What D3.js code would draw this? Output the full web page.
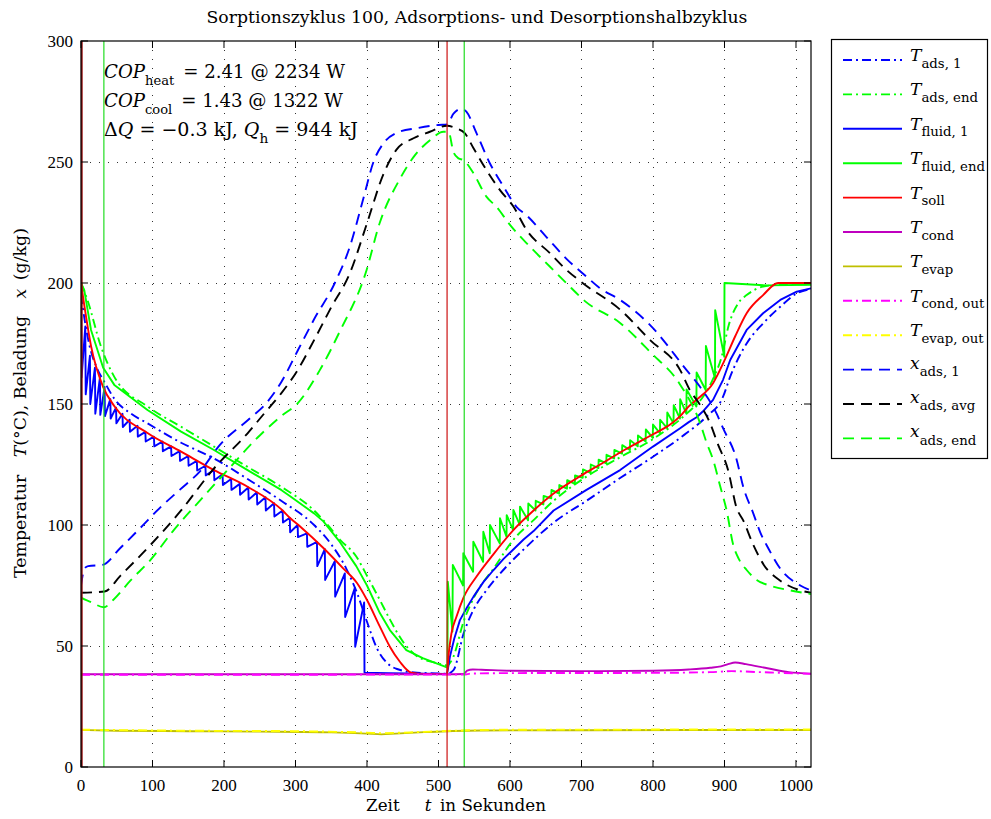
<!DOCTYPE html>
<html>
<head>
<meta charset="utf-8">
<script src="https://cdn.jsdelivr.net/npm/d3@7"></script>
<style>
  body { margin: 0; background: #fff; }
  text { font-family: "DejaVu Serif", "Liberation Serif", serif; fill: #000; }
  .tick text, text.tick { font-family: "Liberation Serif", serif; }
</style>
</head>
<body>
<svg id="chart" width="991" height="819"></svg>
<script>
// ---- axis ticks ----
const xTicks = [0, 100, 200, 300, 400, 500, 600, 700, 800, 900, 1000];
const yTicks = [0, 50, 100, 150, 200, 250, 300];

// ---- phase markers (seconds) ----
const redMarkers = [0, 512];
const greenMarkers = [32, 536];

// ---- series: [t in s, value] ----
const T_ads1 = [[0,195],[5,185],[12,174],[22,165],[33,159],[47,152],[70,146],[93,142],[140,134],[186,127.5],[233,119],[280,110],[326,100],[350,92],[371,82],[386,72],[400,60],[414,49],[428,43],[442,40.5],[470,39],[512,38.6],[521,40],[535,55],[549,65],[567,73],[595,82.8],[623,91],[661,101],[707,110],[754,119.4],[800,128.2],[847,138],[875,144.8],[898,153],[908,161.3],[931,175],[954,183.3],[978,190.2],[1001,195.7],[1021,197.5]];

const T_adsEnd = [[0,200],[9,193],[28,173.7],[47,161],[93,149],[140,140.6],[186,132.4],[233,124],[280,115.8],[326,106],[345,100],[362,94],[385,87],[400,79],[418,69],[432,61],[451,51.5],[469,46],[497,43],[512,42],[520,45],[535,60],[553,72],[577,82],[605,94],[633,102],[661,110],[707,120],[754,128],[800,135.5],[847,146],[870,153],[885,161],[896,169.5],[906,182.6],[920,192],[931,195],[954,198.5],[980,199.3],[1021,199.5]];

const T_fluid1 = [[0,195],[0.8,161],[6,182],[6.6,154],[12.5,170],[13,150],[19.5,165],[20,146],[26.5,161],[27,145.5],[33,157],[33.5,145],[41,152],[41.5,144],[49,148.5],[49.5,142],[58,146],[58.5,140.5],[68,143.5],[68.5,138.5],[79,141],[79.5,136.5],[90,138.5],[90.5,134.5],[102,136.5],[102.5,132.5],[114,134.5],[114.5,130.5],[126,132.5],[126.5,128.5],[138,130.5],[138.5,126.5],[150,128.5],[150.5,124.5],[162,126.5],[162.5,122.5],[174,124.5],[174.5,120.5],[186,122.7],[186.5,118.5],[198,121],[198.5,116.5],[210,119],[210.5,114.5],[222,117],[222.5,112.5],[234,115.5],[234.5,110.5],[246,113.5],[246.5,108.5],[258,111.5],[258.5,106],[270,109],[270.5,103.5],[282,106],[282.5,101],[292,103],[292.5,97],[303,100],[303.5,95],[316,96.5],[316.5,91],[330,93],[330.5,83],[341,90],[341.5,77.3],[355,85],[355.5,70.4],[369,80],[369.5,62],[383,74],[383.5,49.7],[396,68],[396.5,39],[430,38.8],[512,38.5],[514,42],[516,45.6],[522,53],[530,60.7],[540,66],[549,70.4],[563,76.5],[577,81.4],[591,86],[605,90],[619,94],[633,97.5],[661,106],[707,114.5],[754,122.7],[800,132.4],[838,140],[850,142.5],[861,144.5],[870,147],[884,151.7],[898,160],[908,168.2],[931,180.6],[954,187.5],[978,193],[1001,196.4],[1021,197.8]];

const T_fluidEnd = [[0,200],[4.6,197],[14,180.6],[31,165],[46.6,157.9],[93,147.5],[140,138.6],[186,131],[233,122.7],[280,114.5],[292,112],[326,104.8],[339,101.5],[362,93],[385,83],[400,75],[418,63.6],[432,56.6],[455,48.3],[478,45],[510,41.4],[512.5,41],[513,76.6],[519.5,56],[520,83.5],[534.4,75],[534.7,88.3],[548.4,80.7],[548.7,93.1],[562.4,84.8],[562.7,97.2],[571.7,88.3],[572,100],[585.7,92.4],[586,102.8],[595.1,95.2],[595.4,104.1],[604.4,97.9],[604.7,106.2],[613.7,100],[614,107.6],[625.3,102],[625.6,108.9],[635.7,106],[636,110],[646.7,108.5],[647,112],[657.7,111],[658,114.5],[668.7,113],[669,116.5],[679.7,115],[680,118.5],[690.7,117],[691,120.5],[701.7,119.5],[702,123],[712.7,121.5],[713,125],[723.7,123.5],[724,127],[734.7,125.5],[735,129],[745.7,127.5],[746,131],[756.7,129.5],[757,133],[767.7,131],[768,135],[778.7,132.5],[779,137],[789.7,134.5],[790,139.5],[799.7,136],[800,141.5],[809.7,138],[810,143.5],[819.7,140],[820,146.5],[828.7,142],[829,149.5],[837.7,144],[838,152],[846.7,146],[847,156],[860.7,149],[861,163],[873.7,155.8],[874,174],[886.7,160.6],[887,188.8],[899.7,169.5],[900,200],[960,199],[1021,199.3]];

const T_soll = [[0,200],[2,196],[5,190],[14,174],[31,157],[47,149],[93,138],[140,130.3],[186,122.7],[233,115.8],[282,106],[292,103],[308,99],[339,90.5],[367,82],[386,76],[400,69],[418,58],[432,49.7],[446,43.5],[462,39],[480,38.5],[512,38.5],[514,46],[518,55],[525,62],[535,70],[553,78.6],[577,88],[605,98],[633,106],[661,113],[700,120.5],[726,125],[760,131],[800,137.5],[824,141.5],[838,145],[850,149],[862,152],[884,158.6],[900,168],[915,178],[931,187.5],[954,195],[975,200],[1021,200]];

const T_cond = [[0,38.3],[512,38.3],[535,38.4],[540,39.8],[548,40.3],[560,40.2],[600,39.8],[700,39.6],[800,39.8],[850,40.3],[880,41],[895,41.6],[905,42.5],[915,43.2],[930,42.5],[960,40.8],[990,39.2],[1021,38.6]];

const T_evap = [[0,15.3],[50,15],[150,14.8],[250,14.6],[350,14.3],[400,13.8],[420,13.5],[440,13.8],[480,14.4],[520,14.9],[560,15.1],[700,15.2],[1021,15.3]];

const T_condOut = [[0,38.1],[536,38.2],[545,38.6],[600,38.8],[800,38.9],[880,39.2],[910,39.6],[950,39.2],[1021,38.5]];

const T_evapOut = [[0,15.4],[150,15],[300,14.8],[400,14.2],[420,14],[460,14.3],[520,15],[600,15.4],[1021,15.5]];

const x_ads1 = [[0,75],[5,82],[10,83],[30,83.5],[55,90.5],[83,98.8],[110,107],[138,114.5],[168,122.7],[194,133],[236,144],[259,150.3],[280,159],[303,172],[326,185],[355,200],[376,215],[395,235],[409,250],[423,257.7],[441,262],[470,264],[500,265.3],[512,265.5],[521,270],[532,272],[539,270.8],[553,262],[572,249.4],[591,239.8],[609,231.5],[623,228],[651,219],[679,210],[707,202.6],[726,197.8],[754,193],[796,182.6],[847,164],[866,157],[889,146],[898,140],[917,127],[926,116],[940,105],[950,97],[962,90],[978,82],[1006,75],[1021,73]];

const x_adsAvg = [[0,72],[33,72.5],[55,79],[97,91.7],[140,106],[184,122.7],[233,137.9],[256,146],[280,154.4],[303,164],[326,176.4],[350,190],[376,204],[400,224.7],[423,245],[441,255],[465,259.8],[488,262.5],[512,265],[525,263.9],[537,261.8],[549,255.7],[567,246.7],[586,238.4],[605,231.5],[623,222],[656,212.3],[679,205.4],[702,199.9],[754,189],[796,176.4],[838,164],[852,155.5],[866,149.6],[880,142],[890,134],[905,122.7],[917,107],[926,102],[940,92],[955,83.5],[978,77],[1006,73],[1021,72]];

const x_adsEnd = [[0,70],[15,68],[32,66],[45,69],[69,77],[97,85.5],[130,98],[166,110],[205,122.7],[250,137],[280,145],[303,150.3],[334,164],[362,180],[398,204],[418,225],[446,243],[465,252],[488,259],[507,262.5],[514,262.5],[521,254],[528,251.5],[535,250.8],[549,245.3],[567,235.7],[581,231.5],[600,224],[628,215],[656,206.7],[679,199.9],[707,192],[754,183.5],[796,171.5],[838,158],[866,142],[875,134],[884,127],[894,116],[903,106],[912,92],[920,86],[931,81.4],[945,77.3],[963,75],[992,73],[1021,71.5]];

// ---- legend / styling table ----
const seriesDefs = [
  { data: T_ads1,     sym: "T", sub: "ads, 1",     color: "#0000ff", dash: "9,4,2,4", saw: false },
  { data: T_adsEnd,   sym: "T", sub: "ads, end",   color: "#00ff00", dash: "9,4,2,4", saw: false },
  { data: T_fluid1,   sym: "T", sub: "fluid, 1",   color: "#0000ff", dash: null,      saw: true  },
  { data: T_fluidEnd, sym: "T", sub: "fluid, end", color: "#00ff00", dash: null,      saw: true  },
  { data: T_soll,     sym: "T", sub: "soll",       color: "#ff0000", dash: null,      saw: false },
  { data: T_cond,     sym: "T", sub: "cond",       color: "#bf00bf", dash: null,      saw: false },
  { data: T_evap,     sym: "T", sub: "evap",       color: "#bfbf00", dash: null,      saw: false },
  { data: T_condOut,  sym: "T", sub: "cond, out",  color: "#ff00ff", dash: "9,4,2,4", saw: false },
  { data: T_evapOut,  sym: "T", sub: "evap, out",  color: "#ffff00", dash: "9,4,2,4", saw: false },
  { data: x_ads1,     sym: "x", sub: "ads, 1",     color: "#0000ff", dash: "11,7",    saw: false },
  { data: x_adsAvg,   sym: "x", sub: "ads, avg",   color: "#000000", dash: "11,7",    saw: false },
  { data: x_adsEnd,   sym: "x", sub: "ads, end",   color: "#00ff00", dash: "11,7",    saw: false }
];

const svg = d3.select("#chart");
const L = 81, R = 811, T = 41, B = 767;
const x = d3.scaleLinear().domain([0, 1021]).range([L, R]);
const y = d3.scaleLinear().domain([0, 300]).range([B, T]);

// scale a text block's font size so that it spans the given width
function fitWidth(sel, width) {
  const w = sel.node().getComputedTextLength();
  const fs = parseFloat(sel.attr("font-size"));
  if (w > 0) sel.attr("font-size", (fs * width / w).toFixed(2));
  return sel;
}

svg.append("rect").attr("width", 991).attr("height", 819).attr("fill", "#fff");

svg.append("defs").append("clipPath").attr("id", "plotClip")
  .append("rect").attr("x", L).attr("y", T).attr("width", R - L).attr("height", B - T);

// dotted grid
const grid = svg.append("g").attr("stroke", "#333").attr("stroke-width", 1)
  .attr("stroke-dasharray", "1,8");
xTicks.filter(d => d > 0).forEach(d => {
  grid.append("line").attr("x1", Math.round(x(d)) + 0.5).attr("x2", Math.round(x(d)) + 0.5)
    .attr("y1", T).attr("y2", B);
});
yTicks.filter(d => d > 0 && d < 300).forEach(d => {
  grid.append("line").attr("y1", Math.round(y(d)) + 0.5).attr("y2", Math.round(y(d)) + 0.5)
    .attr("x1", L).attr("x2", R);
});

// series
const plot = svg.append("g").attr("clip-path", "url(#plotClip)");
seriesDefs.forEach(s => {
  const line = d3.line()
    .x(d => x(d[0])).y(d => y(d[1]))
    .curve(s.saw ? d3.curveLinear : d3.curveMonotoneX);
  plot.append("path")
    .attr("d", line(s.data))
    .attr("fill", "none")
    .attr("stroke", s.color)
    .attr("stroke-width", 1.9)
    .attr("stroke-linejoin", "round")
    .attr("stroke-dasharray", s.dash);
});

// phase markers
redMarkers.forEach(t => {
  const px = t === 0 ? x(t) + 0.8 : x(t);
  svg.append("line").attr("x1", px).attr("x2", px)
    .attr("y1", T).attr("y2", B).attr("stroke", t === 0 ? "#9a1010" : "#cc1111")
    .attr("stroke-width", t === 0 ? 1.8 : 1.2);
});
greenMarkers.forEach(t => {
  svg.append("line").attr("x1", x(t)).attr("x2", x(t))
    .attr("y1", T).attr("y2", B).attr("stroke", "#22dd22").attr("stroke-width", 1.2);
});

// frame and inward ticks
svg.append("rect").attr("x", L).attr("y", T).attr("width", R - L).attr("height", B - T)
  .attr("fill", "none").attr("stroke", "#000").attr("stroke-width", 1.2);
const tk = 7;
const ticks = svg.append("g").attr("stroke", "#000").attr("stroke-width", 1);
xTicks.forEach(d => {
  const px = x(d);
  ticks.append("line").attr("x1", px).attr("x2", px).attr("y1", B).attr("y2", B - tk);
  ticks.append("line").attr("x1", px).attr("x2", px).attr("y1", T).attr("y2", T + tk);
});
yTicks.forEach(d => {
  const py = y(d);
  ticks.append("line").attr("x1", L).attr("x2", L + tk).attr("y1", py).attr("y2", py);
  ticks.append("line").attr("x1", R).attr("x2", R - tk).attr("y1", py).attr("y2", py);
});

// tick labels
svg.append("g").selectAll("text").data(xTicks).join("text").attr("class", "tick")
  .attr("x", d => x(d)).attr("y", 791).attr("text-anchor", "middle")
  .attr("font-size", 17).text(d => d);
svg.append("g").selectAll("text").data(yTicks).join("text").attr("class", "tick")
  .attr("x", 73).attr("y", d => y(d) + 6).attr("text-anchor", "end")
  .attr("font-size", 17).text(d => d);

// title
fitWidth(svg.append("text").attr("x", 477).attr("y", 23).attr("text-anchor", "middle")
  .attr("font-size", 16).text("Sorptionszyklus 100, Adsorptions- und Desorptionshalbzyklus"), 541);

// x-axis label
const xl = svg.append("text").attr("x", 456).attr("y", 811).attr("text-anchor", "middle")
  .attr("font-size", 16);
xl.append("tspan").text("Zeit\u2003\u2002");
xl.append("tspan").attr("font-style", "italic").text("t");
xl.append("tspan").text("\u2002in Sekunden");
fitWidth(xl, 180);

// y-axis label
const yl = svg.append("text").attr("transform", "translate(26,403) rotate(-90)")
  .attr("text-anchor", "middle").attr("font-size", 16);
yl.append("tspan").text("Temperatur\u2002\u2002");
yl.append("tspan").attr("font-style", "italic").text("T");
yl.append("tspan").text("(\u00B0C), Beladung\u2002\u2002");
yl.append("tspan").attr("font-style", "italic").text("x");
yl.append("tspan").text("\u2002(g/kg)");
fitWidth(yl, 350);

// performance annotation
function annLine(yy, width, parts) {
  const t = svg.append("text").attr("x", 104).attr("y", yy).attr("font-size", 18);
  parts.forEach(p => {
    const ts = t.append("tspan").text(p.s);
    if (p.it) ts.attr("font-style", "italic");
    if (p.sub) ts.attr("font-size", "0.72em").attr("dy", "0.5em");
    if (p.up) ts.attr("dy", "-0.36em");
  });
  fitWidth(t, width);
}
annLine(78, 241, [{ s: "COP", it: true }, { s: "heat", sub: true }, { s: "\u2002= 2.41 @ 2234 W", up: true }]);
annLine(107, 239, [{ s: "COP", it: true }, { s: "cool", sub: true }, { s: "\u2002= 1.43 @ 1322 W", up: true }]);
annLine(136, 254, [{ s: "\u0394" }, { s: "Q", it: true }, { s: " = \u22120.3 kJ, " }, { s: "Q", it: true }, { s: "h", sub: true }, { s: " = 944 kJ", up: true }]);

// legend
const lg = svg.append("g");
lg.append("rect").attr("x", 831.5).attr("y", 39.5).attr("width", 156).attr("height", 419)
  .attr("fill", "#fff").attr("stroke", "#000").attr("stroke-width", 1.2);
const legendTexts = [];
seriesDefs.forEach((s, i) => {
  const ly = 60 + i * 34.4;
  lg.append("line").attr("x1", 843).attr("x2", 902).attr("y1", ly).attr("y2", ly)
    .attr("stroke", s.color).attr("stroke-width", 1.9).attr("stroke-dasharray", s.dash);
  const t = lg.append("text").attr("x", 910).attr("y", s.sym === "T" ? ly + 1 : ly - 1).attr("font-size", 16);
  t.append("tspan").attr("font-style", "italic").text(s.sym);
  t.append("tspan").attr("font-size", "0.78em").attr("dy", s.sym === "T" ? "0.5em" : "0.56em").text(s.sub);
  legendTexts.push(t);
});
// common legend font size: widest entry spans to the right border
const widest = d3.max(legendTexts, t => t.node().getComputedTextLength());
const lfs = 16 * 75 / widest;
legendTexts.forEach(t => t.attr("font-size", lfs.toFixed(2)));
</script>
</body>
</html>
